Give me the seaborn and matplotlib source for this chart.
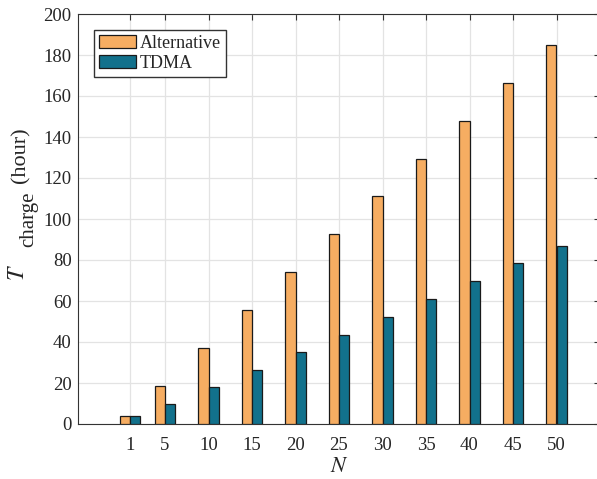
import matplotlib
matplotlib.use("Agg")
import matplotlib.pyplot as plt
import pandas as pd
import seaborn as sns

# values
n_values = [1, 5, 10, 15, 20, 25, 30, 35, 40, 45, 50]
t_alternative = [3.7, 18.5, 37.0, 55.5, 74.0, 92.5, 111.0, 129.5, 148.0, 166.5, 185.0]
t_tdma = [3.7, 9.7, 18.0, 26.3, 35.0, 43.5, 52.2, 61.0, 69.6, 78.3, 87.0]
methods = ["Alternative", "TDMA"]
colors = ["#F6AD62", "#12718C"]

df = pd.DataFrame({
    "N": n_values * 2,
    "T": t_alternative + t_tdma,
    "method": [methods[0]] * len(n_values) + [methods[1]] * len(n_values),
})

sns.set_style("white")
plt.rcParams["font.family"] = ["Liberation Serif", "DejaVu Serif"]
plt.rcParams["mathtext.fontset"] = "stix"

W, H = 597, 479
fig = plt.figure(figsize=(W / 100, H / 100), dpi=100)
ax = fig.add_axes([78 / W, 55 / H, 522 / W, 410 / H])

sns.barplot(data=df, x="N", y="T", hue="method", hue_order=methods,
            palette=colors, native_scale=True, width=0.575, saturation=1,
            edgecolor="#1a1a1a", linewidth=0.9, errorbar=None, ax=ax, zorder=3)

ax.set_xlim(-5, 55)
ax.set_ylim(0, 200)
ax.set_xticks(n_values)
ax.set_xticklabels([str(v) for v in n_values])
ax.set_yticks(range(0, 201, 20))

ax.grid(True, color="#e3e3e3", linewidth=0.9, zorder=0)
ax.set_axisbelow(True)
for s in ax.spines.values():
    s.set_visible(True)
    s.set_color("#333333")
    s.set_linewidth(0.8)
ax.tick_params(direction="in", length=4, width=0.8, color="#333333",
               top=True, right=True, labelsize=13.5, labelcolor="#262626")
ax.tick_params(axis="x", pad=9)
ax.tick_params(axis="y", pad=4.5)

ax.set_xlabel(r"$N$", fontsize=16, color="#262626")
ax.xaxis.set_label_coords(0.5, -0.083)
ax.set_ylabel("")

# y label built from pieces so the subscript keeps its large size
def ftext(x, y, s, **kw):
    fig.text(x / W, 1 - y / H, s, rotation=90, ha="center", va="center",
             color="#262626", **kw)

ftext(18.5, 273, r"$T$", fontsize=17)
ftext(28.5, 219, "charge", fontsize=15)
ftext(21, 155, "(hour)", fontsize=16)

handles, labels = ax.get_legend_handles_labels()
ax.legend(handles, labels, loc="upper left", bbox_to_anchor=(16 / 522, 1 - 16 / 410),
          borderaxespad=0, fancybox=False, framealpha=1, edgecolor="#333333",
          fontsize=13, handlelength=2.05, handleheight=0.75, handletextpad=0.2,
          labelspacing=0.15, borderpad=0.28)

fig.savefig("out.png", dpi=100)
